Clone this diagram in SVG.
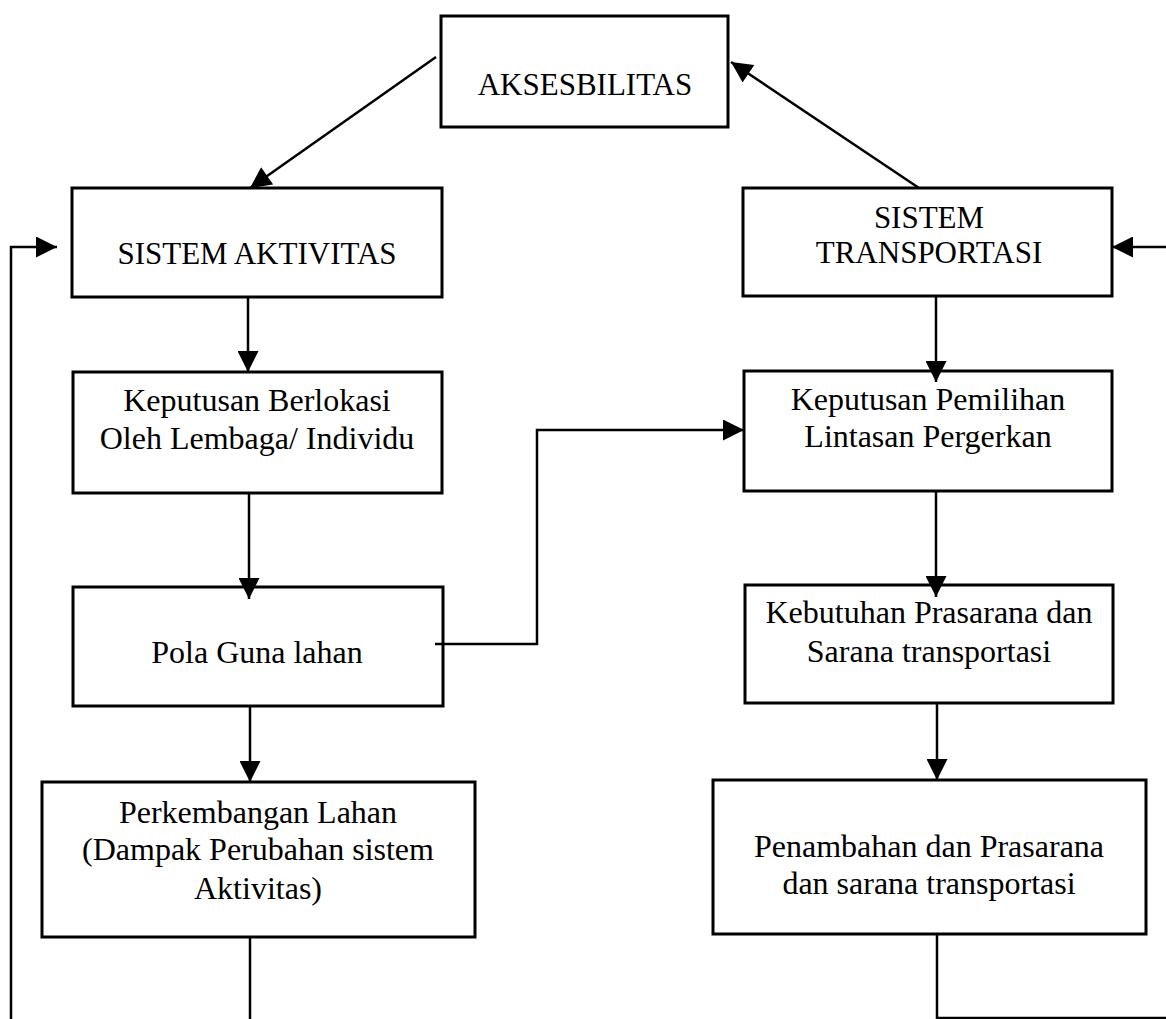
<svg xmlns="http://www.w3.org/2000/svg" width="1166" height="1019" viewBox="0 0 1166 1019">
<style>
.box{fill:#fff;stroke:#000;stroke-width:3}
.t{font-family:"Liberation Serif","Times New Roman",serif;font-size:32px;fill:#000;text-anchor:middle}
.u{font-size:31px}
.c{fill:none;stroke:#000;stroke-width:2.5}
</style>
<defs>
<marker id="ah" viewBox="0 0 10 10" refX="10" refY="5" markerUnits="userSpaceOnUse" markerWidth="22" markerHeight="21" orient="auto">
<path d="M0,0 L10,5 L0,10 z" fill="#000"/>
</marker>
</defs>
<rect width="1166" height="1019" fill="#fff"/>
<g id="aksesbilitas">
<rect class="box" x="441" y="16" width="287" height="111"/>
<text class="t u" x="585" y="95">AKSESBILITAS</text>
</g>
<g id="sistem-aktivitas">
<rect class="box" x="72" y="188" width="370" height="109"/>
<text class="t u" x="257" y="264">SISTEM AKTIVITAS</text>
</g>
<g id="sistem-transportasi">
<rect class="box" x="743" y="188" width="369" height="108"/>
<text class="t u" x="929" y="228">SISTEM</text>
<text class="t u" x="929" y="263">TRANSPORTASI</text>
</g>
<g id="keputusan-berlokasi">
<rect class="box" x="73" y="372" width="369" height="121"/>
<text class="t" x="257" y="411">Keputusan Berlokasi</text>
<text class="t" x="257" y="449">Oleh Lembaga/ Individu</text>
</g>
<g id="keputusan-pemilihan">
<rect class="box" x="744" y="371" width="368" height="120"/>
<text class="t" x="928" y="410">Keputusan Pemilihan</text>
<text class="t" x="928" y="447">Lintasan Pergerkan</text>
</g>
<g id="pola-guna-lahan">
<rect class="box" x="73" y="587" width="370" height="119"/>
<text class="t" x="257" y="663">Pola Guna lahan</text>
</g>
<g id="kebutuhan-prasarana">
<rect class="box" x="745" y="585" width="368" height="118"/>
<text class="t" x="929" y="623">Kebutuhan Prasarana dan</text>
<text class="t" x="929" y="662">Sarana transportasi</text>
</g>
<g id="perkembangan-lahan">
<rect class="box" x="42" y="782" width="433" height="155"/>
<text class="t" x="258" y="823">Perkembangan Lahan</text>
<text class="t" x="258" y="860">(Dampak Perubahan sistem</text>
<text class="t" x="258" y="899">Aktivitas)</text>
</g>
<g id="penambahan-prasarana">
<rect class="box" x="713" y="780" width="433" height="154"/>
<text class="t" x="929" y="857">Penambahan dan Prasarana</text>
<text class="t" x="929" y="894">dan sarana transportasi</text>
</g>
<g id="connectors">
<line class="c" x1="436" y1="57" x2="250" y2="188" marker-end="url(#ah)"/>
<line class="c" x1="919" y1="188" x2="731" y2="62" marker-end="url(#ah)"/>
<line class="c" x1="248" y1="297" x2="248" y2="372" marker-end="url(#ah)"/>
<line class="c" x1="249" y1="493" x2="249" y2="599" marker-end="url(#ah)"/>
<line class="c" x1="250" y1="706" x2="250" y2="782" marker-end="url(#ah)"/>
<line class="c" x1="250" y1="937" x2="250" y2="1019"/>
<polyline class="c" points="11,1019 11,247 57,247" marker-end="url(#ah)"/>
<polyline class="c" points="435,644 537,644 537,430 744,430" marker-end="url(#ah)"/>
<line class="c" x1="936" y1="296" x2="936" y2="382" marker-end="url(#ah)"/>
<line class="c" x1="936" y1="491" x2="936" y2="597" marker-end="url(#ah)"/>
<line class="c" x1="937" y1="703" x2="937" y2="780" marker-end="url(#ah)"/>
<polyline class="c" points="937,934 937,1018 1166,1018"/>
<line class="c" x1="1166" y1="247" x2="1112" y2="247" marker-end="url(#ah)"/>
</g>
</svg>
